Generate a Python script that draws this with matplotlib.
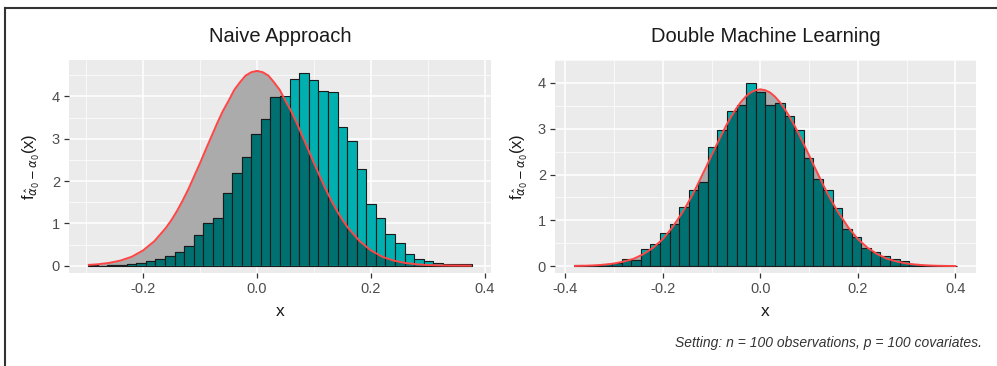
import matplotlib
matplotlib.use('Agg')
import matplotlib.pyplot as plt
from matplotlib.lines import Line2D
import numpy as np

plt.rcParams['font.family'] = ['Liberation Sans', 'DejaVu Sans']
plt.rcParams['mathtext.fontset'] = 'dejavusans'

# histogram densities (40 bins each)
naive_bin_start = -0.296
naive_bin_width = 0.01682
naive_heights = [0.01, 0.0, 0.01, 0.02, 0.04, 0.06, 0.10, 0.15, 0.24, 0.33,
                 0.47, 0.72, 1.01, 1.13, 1.71, 2.19, 2.56, 3.11, 3.46, 3.99,
                 4.00, 4.42, 4.54, 4.38, 4.13, 4.11, 3.28, 2.94, 2.29, 1.45,
                 1.13, 0.74, 0.53, 0.27, 0.16, 0.10, 0.07, 0.05, 0.03, 0.03]

dml_bin_start = -0.3828
dml_bin_width = 0.01966
dml_heights = [0.02, 0.0, 0.02, 0.04, 0.07, 0.16, 0.14, 0.37, 0.49, 0.73,
               0.92, 1.28, 1.66, 1.84, 2.60, 2.98, 3.38, 3.51, 4.00, 3.80,
               3.51, 3.56, 3.27, 2.98, 2.36, 1.91, 1.66, 1.27, 0.82, 0.64,
               0.39, 0.30, 0.22, 0.15, 0.12, 0.05, 0.02, 0.01, 0.0, 0.01]

# reference density curves
naive_curve_x = [-0.295, -0.28, -0.26, -0.24, -0.22, -0.20, -0.18, -0.16, -0.15, -0.14,
                 -0.13, -0.12, -0.11, -0.10, -0.09, -0.08, -0.07, -0.06, -0.05, -0.04,
                 -0.03, -0.02, -0.01, 0.0, 0.01, 0.02, 0.03, 0.04, 0.05, 0.06,
                 0.07, 0.08, 0.09, 0.10, 0.11, 0.12, 0.13, 0.14, 0.15, 0.16,
                 0.18, 0.20, 0.22, 0.24, 0.26, 0.28, 0.30, 0.32, 0.34, 0.36, 0.375]
naive_curve_y = [0.02, 0.033, 0.065, 0.12, 0.21, 0.36, 0.58, 0.89, 1.08, 1.30,
                 1.55, 1.82, 2.12, 2.42, 2.74, 3.05, 3.36, 3.65, 3.89, 4.15,
                 4.33, 4.49, 4.57, 4.60, 4.57, 4.49, 4.33, 4.15, 3.89, 3.65,
                 3.36, 3.05, 2.74, 2.42, 2.12, 1.82, 1.55, 1.30, 1.08, 0.89,
                 0.58, 0.36, 0.21, 0.12, 0.065, 0.033, 0.016, 0.008, 0.004, 0.002, 0.001]

dml_curve_x = [-0.38, -0.36, -0.34, -0.32, -0.30, -0.28, -0.26, -0.24, -0.22, -0.20,
               -0.18, -0.16, -0.15, -0.14, -0.13, -0.12, -0.11, -0.10, -0.09, -0.08,
               -0.07, -0.06, -0.05, -0.04, -0.03, -0.02, -0.01, 0.0, 0.01, 0.02,
               0.03, 0.04, 0.05, 0.06, 0.07, 0.08, 0.09, 0.10, 0.11, 0.12,
               0.13, 0.14, 0.15, 0.16, 0.18, 0.20, 0.22, 0.24, 0.26, 0.28,
               0.30, 0.32, 0.34, 0.36, 0.38, 0.40]
dml_curve_y = [0.0045, 0.009, 0.017, 0.032, 0.057, 0.10, 0.16, 0.26, 0.40, 0.59,
               0.85, 1.17, 1.35, 1.54, 1.75, 1.97, 2.19, 2.42, 2.64, 2.86,
               3.07, 3.26, 3.43, 3.58, 3.70, 3.79, 3.84, 3.86, 3.84, 3.79,
               3.70, 3.58, 3.43, 3.26, 3.07, 2.86, 2.64, 2.42, 2.19, 1.97,
               1.75, 1.54, 1.35, 1.17, 0.85, 0.59, 0.40, 0.26, 0.16, 0.10,
               0.057, 0.032, 0.017, 0.009, 0.0045, 0.002]

titles = ['Naive Approach', 'Double Machine Learning']
caption = 'Setting: n = 100 observations, p = 100 covariates.'

cyan = '#00B0B0'
teal = '#007070'
grey_area = '#ABABAB'
red = '#FF4545'

fig = plt.figure(figsize=(9.97, 3.66), dpi=100)

panels = [
    dict(rect=[69/997, 1-273/366, 422/997, 213/366], xlim=(-0.3298, 0.4105), ylim=(-0.172, 4.858),
         xticks=[-0.2, 0.0, 0.2, 0.4], xminor=[-0.3, -0.1, 0.1, 0.3],
         start=naive_bin_start, width=naive_bin_width, heights=naive_heights,
         cx=naive_curve_x, cy=naive_curve_y, title=titles[0], ylab_x=31/997),
    dict(rect=[555/997, 1-273/366, 421/997, 213/366], xlim=(-0.4211, 0.4423), ylim=(-0.15, 4.226),
         xticks=[-0.4, -0.2, 0.0, 0.2, 0.4], xminor=[-0.3, -0.1, 0.1, 0.3],
         start=dml_bin_start, width=dml_bin_width, heights=dml_heights,
         cx=dml_curve_x, cy=dml_curve_y, title=titles[1], ylab_x=519/997),
]

for p in panels:
    ax = fig.add_axes(p['rect'])
    ax.set_facecolor('#EBEBEB')
    for s in ax.spines.values():
        s.set_visible(False)
    ax.set_xlim(*p['xlim'])
    ax.set_ylim(*p['ylim'])
    ax.set_xticks(p['xticks'])
    ax.set_xticklabels([f'{t:.1f}' for t in p['xticks']])
    ax.set_yticks([0, 1, 2, 3, 4])
    ax.set_xticks(p['xminor'], minor=True)
    ax.set_yticks([0.5, 1.5, 2.5, 3.5, 4.5], minor=True)
    ax.grid(which='major', color='white', linewidth=1.1, zorder=0)
    ax.grid(which='minor', color='white', linewidth=0.5, zorder=0)
    ax.set_axisbelow(True)
    ax.tick_params(which='major', length=3.5, width=0.9, color='#333333',
                   labelsize=10.5, labelcolor='#4D4D4D', pad=3)
    ax.tick_params(which='minor', length=0)

    n = len(p['heights'])
    centers = p['start'] + p['width'] * (np.arange(n) + 0.5)

    area = ax.fill_between(p['cx'], p['cy'], 0, color=grey_area, linewidth=0, zorder=1)
    ax.bar(centers, p['heights'], width=p['width'], color=cyan,
           edgecolor='#1A1A1A', linewidth=0.8, zorder=2)
    dark = ax.bar(centers, p['heights'], width=p['width'], color=teal,
                  edgecolor='#1A1A1A', linewidth=0.8, zorder=3)
    clip = area.get_paths()[0]
    for b in dark:
        b.set_clip_path(clip, transform=ax.transData)
    ax.plot(p['cx'], p['cy'], color=red, linewidth=1.4, zorder=4)

    x0, y0, w, h = p['rect']
    fig.text(x0 + w / 2, 1 - 37/366, p['title'], ha='center', va='center',
             fontsize=14.5, color='#1A1A1A')
    fig.text(x0 + w / 2, 1 - 312/366, 'x', ha='center', va='center',
             fontsize=12.5, color='#1A1A1A')
    fig.text(p['ylab_x'], y0 + h / 2,
             r'$\mathregular{f}_{\hat{\alpha}_0-\alpha_0}\mathregular{(x)}$',
             rotation=90, ha='center', va='center', fontsize=12, color='#1A1A1A')

fig.text(982/997, 1 - 343/366, caption, ha='right', va='center',
         fontsize=10, style='italic', color='#333333')

# frame lines of the original figure
fig.add_artist(Line2D([5/997, 1], [1 - 8/366, 1 - 8/366], color='#333333', linewidth=1.5))
fig.add_artist(Line2D([5/997, 5/997], [0, 1 - 8/366], color='#333333', linewidth=1.5))

fig.savefig('out.png', dpi=100, facecolor='white')
